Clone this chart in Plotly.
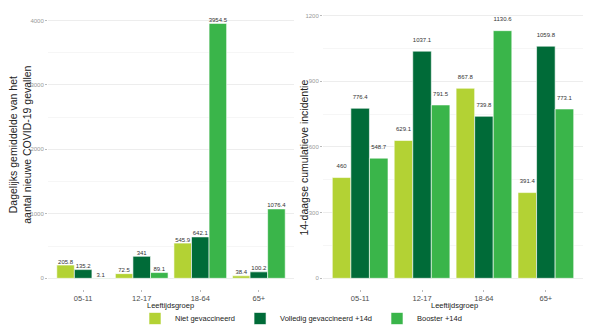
import plotly.graph_objects as go

categories = ["05-11", "12-17", "18-64", "65+"]
series_names = ["Niet gevaccineerd", "Volledig gevaccineerd +14d", "Booster +14d"]

daily_niet = [205.8, 72.5, 545.9, 38.4]
daily_volledig = [135.2, 341, 642.1, 100.2]
daily_booster = [3.1, 89.1, 3954.5, 1076.4]

incid_niet = [460, 629.1, 867.8, 391.4]
incid_volledig = [776.4, 1037.1, 739.8, 1059.8]
incid_booster = [548.7, 791.5, 1130.6, 773.1]

colors = ["#B3D234", "#006B38", "#3AB54A"]
FONT = "Liberation Sans, Arial, sans-serif"
W, H = 602, 333

def px_x(p):
    return p / W

def px_y(p):
    return 1 - p / H

fig = go.Figure()
xs = list(range(len(categories)))
bar_w = 0.9 / 3
offsets = [-bar_w, 0, bar_w]

panels = [
    ("x", "y", [daily_niet, daily_volledig, daily_booster], 0, True),
    ("x2", "y2", [incid_niet, incid_volledig, incid_booster], 36, False),
]
for xa, ya, data, lab_off, showleg in panels:
    for j, (name, vals) in enumerate(zip(series_names, data)):
        fig.add_trace(go.Bar(
            x=xs, y=vals, name=name, marker=dict(color=colors[j], line=dict(color="white", width=0.6)),
            xaxis=xa, yaxis=ya, showlegend=showleg, legendgroup=name, offsetgroup=str(j),
        ))
    for j, vals in enumerate(data):
        fig.add_trace(go.Scatter(
            x=[i + offsets[j] for i in xs], y=[v + lab_off for v in vals],
            text=[f"{v:g}" for v in vals], mode="text", textposition="top center",
            textfont=dict(size=6, color="#333333", family=FONT),
            xaxis=xa, yaxis=ya, showlegend=False, hoverinfo="skip", cliponaxis=False,
        ))

grid = "#EDEDED"
minor_grid = "#F6F6F6"
common_x = dict(tickvals=xs, ticktext=categories, range=[-0.6, 3.6], showgrid=False, zeroline=False,
                ticks="outside", ticklen=2, tickcolor="#BBBBBB", tickfont=dict(size=7.5, color="#4D4D4D", family=FONT),
                showline=False)
common_y = dict(showgrid=True, gridcolor=grid, gridwidth=0.8, zeroline=False, ticks="outside", ticklen=2,
                tickcolor="#BBBBBB", tickfont=dict(size=6, color="#999999", family=FONT), showline=False)

TOP, BOT, ZERO = 5, 293, 281.7
ydom = [px_y(BOT), px_y(TOP)]
s1 = 0.06525   # px per unit, left
s2 = 0.2217    # px per unit, right
fig.update_layout(
    width=W, height=H, margin=dict(l=0, r=0, t=0, b=0),
    paper_bgcolor="white", plot_bgcolor="white",
    barmode="group", bargap=0.1, bargroupgap=0,
    font=dict(family=FONT, color="#222222"),
    xaxis=dict(domain=[px_x(48), px_x(294)], anchor="y", **common_x),
    yaxis=dict(domain=ydom, anchor="x", range=[-(BOT - ZERO) / s1, (ZERO - TOP) / s1],
               tick0=0, dtick=1000, minor=dict(dtick=500, showgrid=True, gridcolor=minor_grid), **common_y),
    xaxis2=dict(domain=[px_x(323), px_x(583)], anchor="y2", **common_x),
    yaxis2=dict(domain=ydom, anchor="x2", range=[-(BOT - ZERO) / s2, (ZERO - TOP) / s2],
                tick0=0, dtick=300, minor=dict(dtick=150, showgrid=True, gridcolor=minor_grid), **common_y),
    legend=dict(orientation="h", x=0.5, xanchor="center", y=px_y(322.5), yanchor="middle",
                font=dict(size=7.5, color="#222222", family=FONT), itemwidth=30, tracegroupgap=0,
                bgcolor="rgba(0,0,0,0)"),
    annotations=[
        dict(text="Dagelijks gemiddelde van het<br>aantal nieuwe COVID-19 gevallen", x=px_x(20.5), y=px_y(147),
             xref="paper", yref="paper", textangle=-90, showarrow=False, font=dict(size=10.5, color="#222222"),
             xanchor="center", yanchor="middle"),
        dict(text="14-daagse cumulatieve incidentie", x=px_x(304.5), y=px_y(160),
             xref="paper", yref="paper", textangle=-90, showarrow=False, font=dict(size=10.5, color="#222222"),
             xanchor="center", yanchor="middle"),
        dict(text="Leeftijdsgroep", x=px_x(171), y=px_y(309.5), xref="paper", yref="paper", showarrow=False,
             font=dict(size=7.5, color="#222222"), xanchor="center", yanchor="middle"),
        dict(text="Leeftijdsgroep", x=px_x(454), y=px_y(309.5), xref="paper", yref="paper", showarrow=False,
             font=dict(size=7.5, color="#222222"), xanchor="center", yanchor="middle"),
    ],
)

fig.write_html("out.html")
